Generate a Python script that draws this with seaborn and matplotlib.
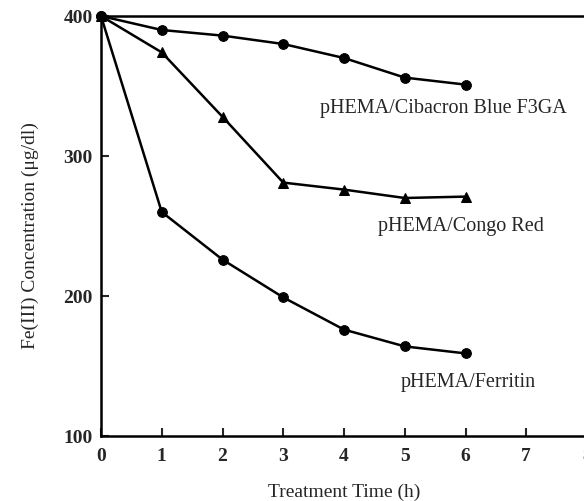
import matplotlib
matplotlib.use("Agg")
import matplotlib.pyplot as plt
import seaborn as sns
import pandas as pd

time_h = [0, 1, 2, 3, 4, 5, 6]
cibacron = [400, 390, 386, 380, 370, 356, 351]
congo = [400, 374, 328, 281, 276, 270, 271]
ferritin = [400, 260, 226, 199, 176, 164, 159]
series_names = ["pHEMA/Cibacron Blue F3GA", "pHEMA/Congo Red", "pHEMA/Ferritin"]
x_ticks = [0, 1, 2, 3, 4, 5, 6, 7, 8]
y_ticks = [100, 200, 300, 400]

sns.set_style("ticks")
plt.rcParams['font.family'] = ['Liberation Serif', 'DejaVu Serif']

df = pd.DataFrame({
    "t": time_h * 3,
    "c": cibacron + congo + ferritin,
    "s": [series_names[0]] * 7 + [series_names[1]] * 7 + [series_names[2]] * 7,
})

fig = plt.figure(figsize=(5.84, 5.02), dpi=100)
ax = fig.add_axes([101 / 584, 1 - 437 / 502, (587 - 101) / 584, (437 - 17) / 502])

sns.lineplot(data=df, x="t", y="c", hue="s", style="s",
             markers={series_names[0]: "o", series_names[1]: "^", series_names[2]: "o"},
             dashes=False, palette=["black"] * 3, linewidth=1.8, markersize=7,
             markeredgecolor="black", legend=False, ax=ax, clip_on=False)

ax.set_xlim(0, 8)
ax.set_ylim(100, 400)
ax.set_xticks(x_ticks)
ax.set_yticks(y_ticks)
ax.tick_params(axis="both", direction="in", length=6, width=1.5, labelsize=14)
ax.tick_params(axis="x", pad=8)
ax.tick_params(axis="y", pad=6)
for lab in ax.get_xticklabels() + ax.get_yticklabels():
    lab.set_fontweight("bold")
for side in ["left", "bottom", "top"]:
    ax.spines[side].set_linewidth(1.8)
    ax.spines[side].set_color("black")
ax.spines["right"].set_visible(False)

ax.set_xlabel("Treatment Time (h)", fontsize=14)
ax.xaxis.set_label_coords(0.5, -0.112)
ax.set_ylabel("Fe(III) Concentration (μg/dl)", fontsize=14)
ax.yaxis.set_label_coords(-0.127, 0.48)

ax.text(3.6, 335, series_names[0], fontsize=14.5, ha="left", va="center")
ax.text(4.56, 250, series_names[1], fontsize=14.5, ha="left", va="center")
ax.text(4.93, 139, series_names[2], fontsize=14.5, ha="left", va="center")

fig.savefig("out.png", dpi=100)
